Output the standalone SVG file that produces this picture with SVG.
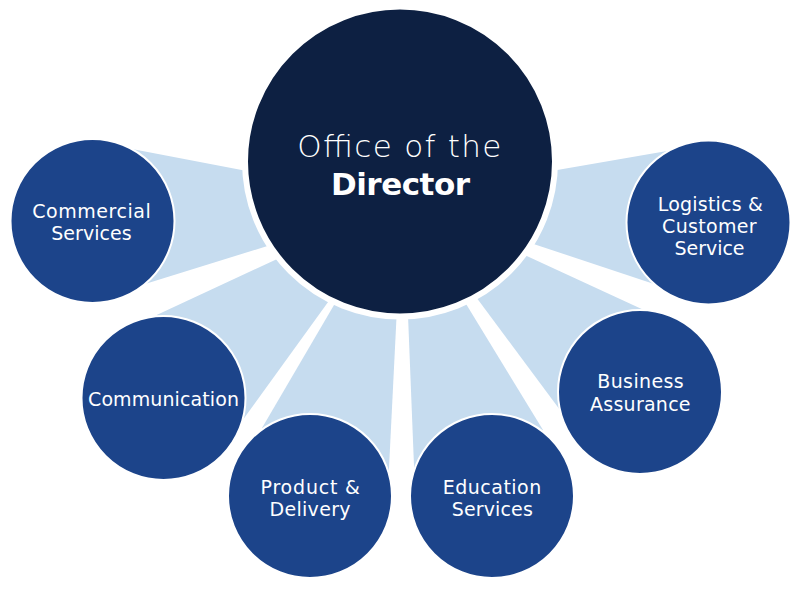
<svg xmlns="http://www.w3.org/2000/svg" width="800" height="589" viewBox="0 0 800 589">
  <style>
    .conn { fill: #c6dcef; stroke: none; }
    .outer { fill: #1c448a; stroke: #ffffff; stroke-width: 2; }
    .center { fill: #0d2042; stroke: #ffffff; stroke-width: 6; }
    .lbl { font-family: "DejaVu Sans", "Liberation Sans", sans-serif; font-size: 19px; fill: #ffffff; text-anchor: middle; }
    .ctr { font-family: "DejaVu Sans", "Liberation Sans", sans-serif; font-size: 31px; fill: #ffffff; text-anchor: middle; }
  </style>
  <rect width="800" height="589" fill="#ffffff"/>
  <g id="connectors">
    <polygon class="conn" points="261.3,173.8 133.3,149.3 92.5,221 145,284 284.1,240.8"/>
    <polygon class="conn" points="293.1,251.6 156.7,315 163.5,398 242,421 338.4,287.8"/>
    <polygon class="conn" points="343.1,289.4 262,428 310,496 388.7,474 397.7,293.3"/>
    <polygon class="conn" points="407.2,295 414.2,471 492,496 543,430 456.3,287.9"/>
    <polygon class="conn" points="466.4,283.9 560,410 640,392 646,311 510.1,248.3"/>
    <polygon class="conn" points="517.7,238.7 657,285 708.5,222.5 667,151 537,173.4"/>
  </g>
  <g id="commercial">
    <circle class="outer" cx="92.5" cy="221" r="82"/>
    <text class="lbl" x="91.5" y="218" textLength="118.5" lengthAdjust="spacing">Commercial</text>
    <text class="lbl" x="91.5" y="240" textLength="80.5" lengthAdjust="spacing">Services</text>
  </g>
  <g id="communication">
    <circle class="outer" cx="163.5" cy="398" r="82"/>
    <text class="lbl" x="163.5" y="405.7" textLength="151" lengthAdjust="spacing">Communication</text>
  </g>
  <g id="product">
    <circle class="outer" cx="310" cy="496" r="82"/>
    <text class="lbl" x="310.2" y="494.3" textLength="99.5" lengthAdjust="spacing">Product &amp;</text>
    <text class="lbl" x="310" y="516" textLength="81" lengthAdjust="spacing">Delivery</text>
  </g>
  <g id="education">
    <circle class="outer" cx="492" cy="496" r="82"/>
    <text class="lbl" x="492" y="494.3" textLength="98.5" lengthAdjust="spacing">Education</text>
    <text class="lbl" x="492.3" y="515.7" textLength="81" lengthAdjust="spacing">Services</text>
  </g>
  <g id="business">
    <circle class="outer" cx="640" cy="392" r="82"/>
    <text class="lbl" x="640.5" y="387.7" textLength="86.5" lengthAdjust="spacing">Business</text>
    <text class="lbl" x="640.3" y="410.7" textLength="100.5" lengthAdjust="spacing">Assurance</text>
  </g>
  <g id="logistics">
    <circle class="outer" cx="708.5" cy="222.5" r="82"/>
    <text class="lbl" x="710.3" y="211" textLength="105" lengthAdjust="spacing">Logistics &amp;</text>
    <text class="lbl" x="709.3" y="233.3" textLength="94.5" lengthAdjust="spacing">Customer</text>
    <text class="lbl" x="709.5" y="255" textLength="70" lengthAdjust="spacing">Service</text>
  </g>
  <g id="director">
    <circle class="center" cx="400" cy="161.5" r="155"/>
    <text class="ctr" x="399.3" y="156.7" font-weight="200" textLength="204" lengthAdjust="spacing">Office of the</text>
    <text class="ctr" x="400.5" y="195" font-weight="bold" textLength="139" lengthAdjust="spacing">Director</text>
  </g>
</svg>
